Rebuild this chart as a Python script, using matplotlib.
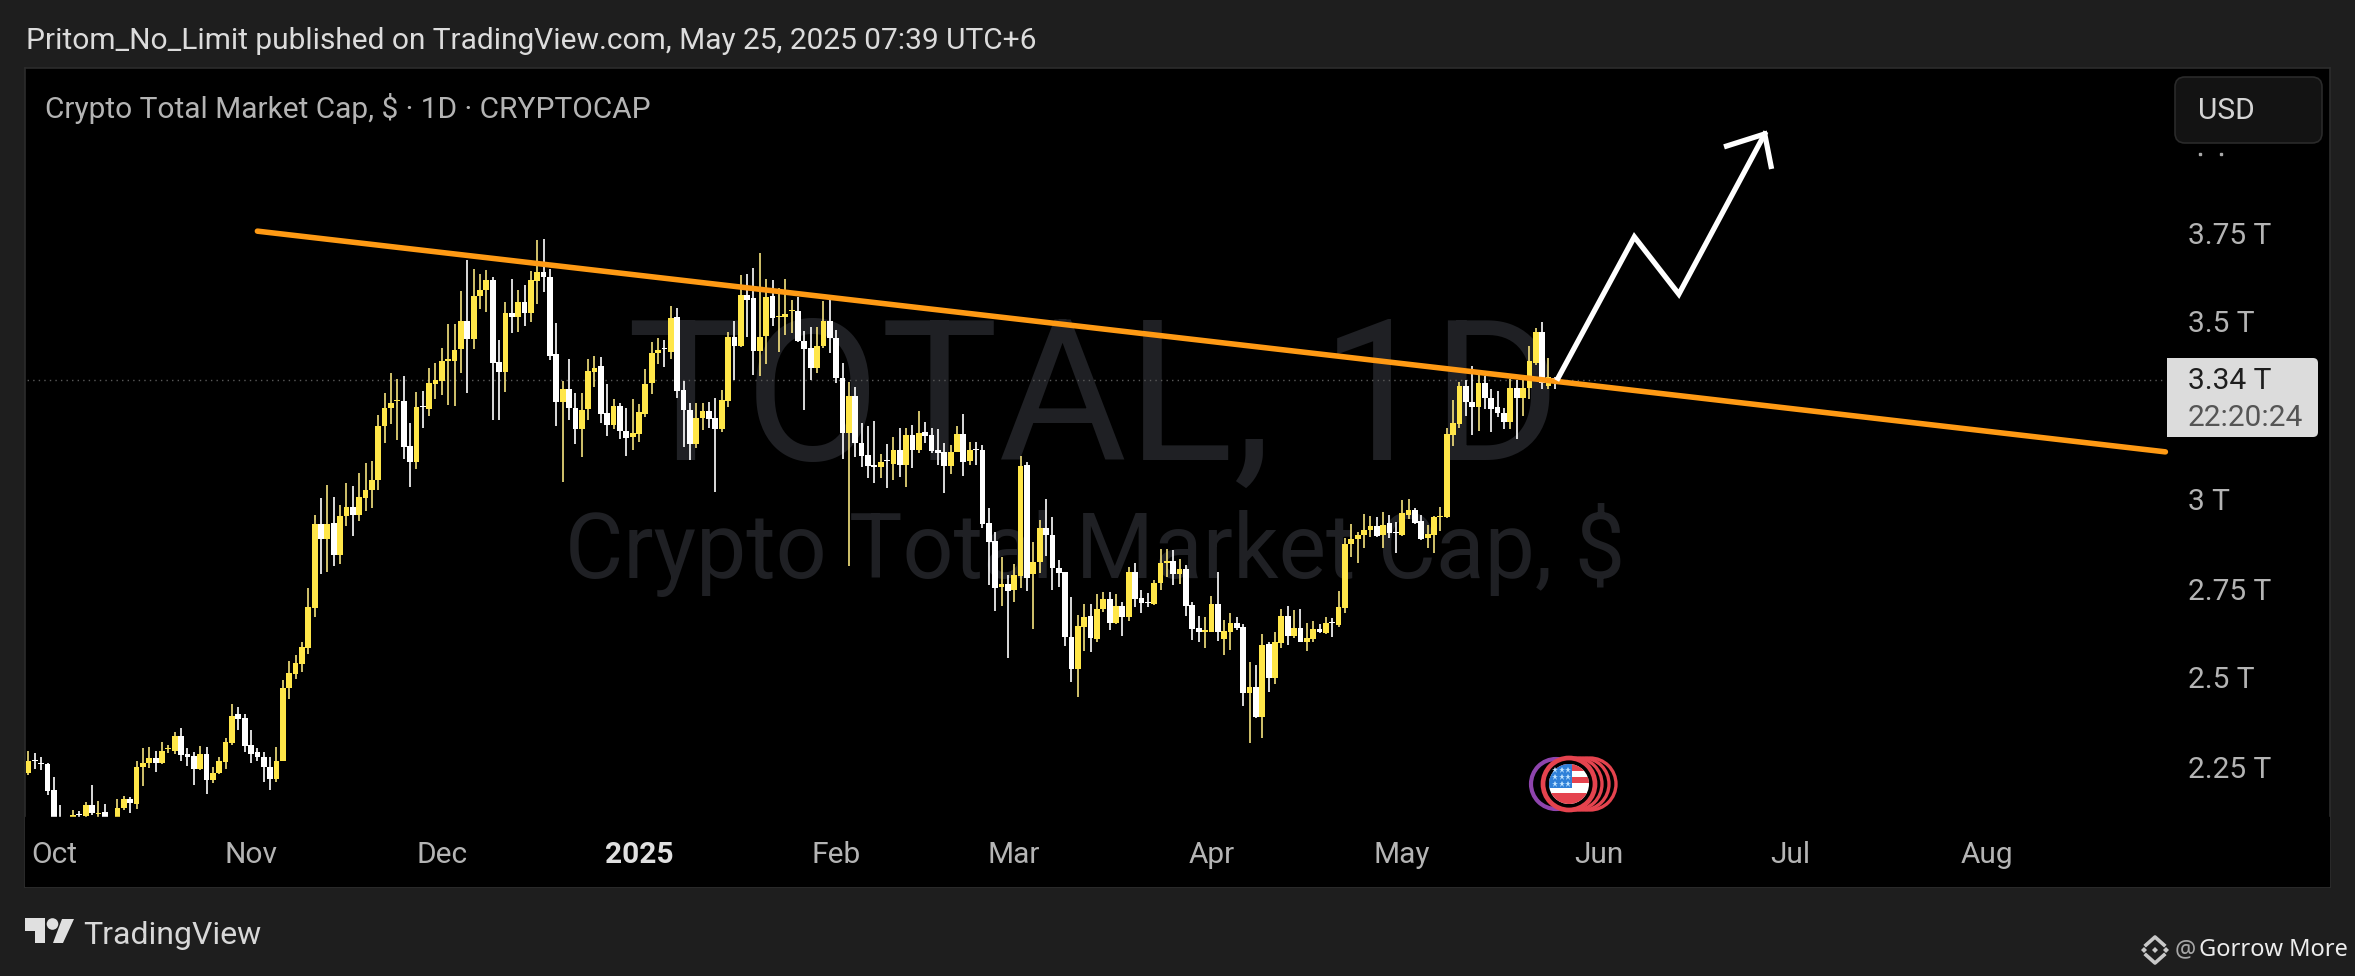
import matplotlib
matplotlib.use("Agg")
import matplotlib.pyplot as plt
import matplotlib.dates as mdates
from matplotlib.patches import Circle, FancyBboxPatch, Polygon, Rectangle
import numpy as np
import pandas as pd

plt.rcParams['font.family'] = ['Roboto', 'DejaVu Sans']

W, H = 2355, 976
BG = '#1e1e1e'
YELLOW = '#ffe648'
YELLOW_WICK = '#f5e27e'

start_date = '2024-09-27'

opens = [2.237, 2.273, 2.265, 2.262, 2.189, 2.100, 2.070, 2.105, 2.122, 2.116,
         2.145, 2.122, 2.126, 2.100, 2.108, 2.137, 2.164, 2.149, 2.254, 2.265,
         2.277, 2.263, 2.302, 2.299, 2.339, 2.288, 2.283, 2.246, 2.288, 2.217,
         2.237, 2.268, 2.320, 2.401, 2.390, 2.314, 2.294, 2.282, 2.254, 2.220,
         2.271, 2.474, 2.514, 2.542, 2.587, 2.700, 2.935, 2.894, 2.937, 2.849,
         2.959, 2.984, 2.962, 3.008, 3.031, 3.059, 3.211, 3.261, 3.280, 3.281,
         3.155, 3.110, 3.267, 3.259, 3.329, 3.338, 3.394, 3.394, 3.428, 3.505,
         3.456, 3.575, 3.594, 3.620, 3.391, 3.362, 3.529, 3.518, 3.559, 3.529,
         3.617, 3.642, 3.629, 3.413, 3.279, 3.315, 3.260, 3.202, 3.258, 3.363,
         3.379, 3.246, 3.213, 3.267, 3.198, 3.181, 3.188, 3.244, 3.331, 3.417,
         3.429, 3.419, 3.516, 3.312, 3.257, 3.160, 3.232, 3.253, 3.232, 3.201,
         3.281, 3.460, 3.435, 3.579, 3.570, 3.422, 3.463, 3.576, 3.516, 3.518,
         3.533, 3.533, 3.450, 3.429, 3.374, 3.435, 3.506, 3.457, 3.346, 3.190,
         3.295, 3.164, 3.129, 3.101, 3.095, 3.115, 3.104, 3.143, 3.101, 3.185,
         3.143, 3.194, 3.185, 3.143, 3.137, 3.099, 3.139, 3.188, 3.113, 3.147,
         3.143, 2.937, 2.888, 2.759, 2.766, 2.750, 2.790, 3.101, 2.795, 2.828,
         2.923, 2.904, 2.811, 2.800, 2.617, 2.527, 2.647, 2.678, 2.612, 2.696,
         2.725, 2.658, 2.706, 2.673, 2.801, 2.727, 2.717, 2.711, 2.771, 2.827,
         2.831, 2.795, 2.809, 2.708, 2.642, 2.633, 2.633, 2.711, 2.612, 2.633,
         2.656, 2.645, 2.462, 2.478, 2.394, 2.597, 2.504, 2.600, 2.677, 2.621,
         2.642, 2.605, 2.611, 2.640, 2.630, 2.660, 2.652, 2.699, 2.878, 2.893,
         2.904, 2.919, 2.930, 2.904, 2.937, 2.914, 2.904, 2.961, 2.975, 2.944,
         2.897, 2.904, 2.954, 2.954, 3.185, 3.216, 3.323, 3.279, 3.265, 3.331,
         3.290, 3.265, 3.248, 3.223, 3.317, 3.288, 3.317, 3.387, 3.474, 3.323, 3.345]

closes = [2.271, 2.270, 2.262, 2.186, 2.100, 2.060, 2.090, 2.119, 2.119, 2.145,
          2.124, 2.125, 2.105, 2.090, 2.138, 2.162, 2.152, 2.254, 2.265, 2.277,
          2.265, 2.299, 2.306, 2.339, 2.286, 2.282, 2.248, 2.288, 2.215, 2.237,
          2.269, 2.322, 2.397, 2.387, 2.313, 2.288, 2.282, 2.254, 2.220, 2.271,
          2.474, 2.516, 2.545, 2.589, 2.702, 2.935, 2.894, 2.935, 2.849, 2.959,
          2.984, 2.962, 3.010, 3.031, 3.059, 3.211, 3.261, 3.276, 3.283, 3.151,
          3.110, 3.264, 3.263, 3.332, 3.340, 3.392, 3.400, 3.424, 3.505, 3.456,
          3.575, 3.594, 3.622, 3.388, 3.362, 3.527, 3.516, 3.559, 3.529, 3.620,
          3.642, 3.629, 3.408, 3.279, 3.315, 3.260, 3.202, 3.256, 3.365, 3.375,
          3.244, 3.213, 3.267, 3.198, 3.178, 3.190, 3.249, 3.329, 3.415, 3.424,
          3.426, 3.513, 3.309, 3.256, 3.160, 3.232, 3.253, 3.230, 3.202, 3.284,
          3.462, 3.436, 3.579, 3.565, 3.422, 3.462, 3.574, 3.513, 3.520, 3.525,
          3.536, 3.450, 3.428, 3.374, 3.435, 3.506, 3.457, 3.345, 3.190, 3.295,
          3.164, 3.126, 3.098, 3.096, 3.109, 3.111, 3.143, 3.101, 3.185, 3.143,
          3.192, 3.183, 3.140, 3.134, 3.099, 3.137, 3.188, 3.110, 3.143, 3.143,
          2.935, 2.886, 2.757, 2.766, 2.748, 2.792, 3.098, 2.785, 2.828, 2.923,
          2.904, 2.811, 2.797, 2.617, 2.527, 2.649, 2.675, 2.614, 2.696, 2.725,
          2.658, 2.706, 2.675, 2.801, 2.725, 2.714, 2.714, 2.771, 2.825, 2.831,
          2.795, 2.808, 2.706, 2.640, 2.631, 2.638, 2.711, 2.631, 2.636, 2.656,
          2.644, 2.462, 2.477, 2.394, 2.596, 2.504, 2.605, 2.677, 2.621, 2.642,
          2.605, 2.615, 2.640, 2.631, 2.656, 2.657, 2.703, 2.879, 2.892, 2.904,
          2.919, 2.930, 2.902, 2.933, 2.911, 2.911, 2.965, 2.975, 2.939, 2.893,
          2.906, 2.954, 2.958, 3.187, 3.218, 3.324, 3.279, 3.265, 3.331, 3.288,
          3.258, 3.246, 3.223, 3.317, 3.288, 3.317, 3.393, 3.474, 3.332, 3.347, 3.340]

highs = [2.299, 2.291, 2.282, 2.265, 2.226, 2.147, 2.100, 2.133, 2.130, 2.155,
         2.201, 2.156, 2.149, 2.108, 2.162, 2.172, 2.169, 2.269, 2.305, 2.308,
         2.297, 2.322, 2.316, 2.350, 2.361, 2.305, 2.294, 2.313, 2.308, 2.252,
         2.280, 2.335, 2.429, 2.421, 2.401, 2.356, 2.305, 2.294, 2.280, 2.308,
         2.497, 2.551, 2.568, 2.604, 2.756, 2.960, 3.008, 3.044, 3.010, 2.990,
         3.050, 3.042, 3.078, 3.106, 3.112, 3.242, 3.304, 3.360, 3.343, 3.352,
         3.219, 3.306, 3.309, 3.374, 3.388, 3.431, 3.496, 3.498, 3.590, 3.676,
         3.651, 3.637, 3.648, 3.628, 3.453, 3.558, 3.623, 3.592, 3.606, 3.645,
         3.733, 3.736, 3.651, 3.499, 3.338, 3.398, 3.302, 3.302, 3.398, 3.407,
         3.405, 3.329, 3.286, 3.276, 3.260, 3.286, 3.272, 3.371, 3.446, 3.457,
         3.452, 3.548, 3.541, 3.337, 3.276, 3.274, 3.276, 3.279, 3.288, 3.312,
         3.476, 3.506, 3.635, 3.639, 3.655, 3.698, 3.625, 3.621, 3.597, 3.625,
         3.565, 3.572, 3.478, 3.488, 3.490, 3.562, 3.578, 3.480, 3.387, 3.333,
         3.321, 3.218, 3.211, 3.225, 3.131, 3.160, 3.179, 3.204, 3.204, 3.213,
         3.253, 3.223, 3.204, 3.202, 3.162, 3.157, 3.211, 3.243, 3.167, 3.167,
         3.157, 2.979, 2.912, 2.842, 2.792, 2.822, 3.127, 3.110, 2.884, 2.948,
         3.005, 2.956, 2.834, 2.801, 2.731, 2.680, 2.711, 2.711, 2.738, 2.745,
         2.743, 2.738, 2.717, 2.816, 2.825, 2.750, 2.741, 2.778, 2.865, 2.864,
         2.862, 2.836, 2.820, 2.717, 2.677, 2.675, 2.733, 2.800, 2.666, 2.684,
         2.675, 2.655, 2.547, 2.539, 2.626, 2.605, 2.631, 2.698, 2.705, 2.694,
         2.697, 2.658, 2.664, 2.654, 2.673, 2.670, 2.747, 2.895, 2.934, 2.914,
         2.963, 2.958, 2.956, 2.968, 2.961, 2.940, 3.003, 3.007, 2.979, 2.961,
         2.933, 2.959, 2.984, 3.206, 3.284, 3.335, 3.340, 3.380, 3.365, 3.351,
         3.316, 3.310, 3.260, 3.343, 3.340, 3.340, 3.435, 3.487, 3.502, 3.401, 3.349]

lows = [2.229, 2.248, 2.245, 2.173, 2.070, 2.050, 2.050, 2.080, 2.100, 2.108,
        2.119, 2.110, 2.090, 2.070, 2.090, 2.132, 2.124, 2.136, 2.200, 2.251,
        2.239, 2.260, 2.291, 2.288, 2.271, 2.256, 2.201, 2.243, 2.178, 2.207,
        2.232, 2.248, 2.316, 2.358, 2.296, 2.265, 2.271, 2.211, 2.189, 2.212,
        2.269, 2.444, 2.500, 2.519, 2.570, 2.675, 2.796, 2.801, 2.818, 2.824,
        2.929, 2.903, 2.943, 2.973, 2.980, 3.031, 3.163, 3.216, 3.172, 3.118,
        3.039, 3.089, 3.206, 3.238, 3.287, 3.298, 3.270, 3.267, 3.360, 3.304,
        3.428, 3.539, 3.532, 3.227, 3.227, 3.307, 3.473, 3.475, 3.491, 3.504,
        3.552, 3.586, 3.397, 3.212, 3.054, 3.228, 3.160, 3.124, 3.228, 3.321,
        3.220, 3.183, 3.202, 3.173, 3.126, 3.143, 3.167, 3.237, 3.301, 3.385,
        3.377, 3.398, 3.288, 3.153, 3.115, 3.150, 3.199, 3.204, 3.026, 3.195,
        3.265, 3.340, 3.432, 3.462, 3.354, 3.352, 3.385, 3.492, 3.419, 3.466,
        3.473, 3.448, 3.256, 3.340, 3.360, 3.429, 3.417, 3.332, 3.117, 2.818,
        3.124, 3.096, 3.066, 3.051, 3.066, 3.037, 3.059, 3.068, 3.040, 3.092,
        3.136, 3.164, 3.134, 3.101, 3.023, 3.075, 3.137, 3.071, 3.101, 3.101,
        2.923, 2.764, 2.692, 2.706, 2.560, 2.717, 2.755, 2.748, 2.640, 2.799,
        2.846, 2.750, 2.759, 2.594, 2.492, 2.450, 2.580, 2.577, 2.605, 2.687,
        2.638, 2.655, 2.622, 2.664, 2.703, 2.684, 2.703, 2.708, 2.750, 2.787,
        2.764, 2.767, 2.677, 2.610, 2.605, 2.588, 2.631, 2.608, 2.567, 2.581,
        2.638, 2.425, 2.319, 2.390, 2.335, 2.464, 2.485, 2.586, 2.596, 2.614,
        2.603, 2.580, 2.603, 2.628, 2.626, 2.619, 2.647, 2.684, 2.842, 2.827,
        2.869, 2.900, 2.898, 2.869, 2.895, 2.855, 2.903, 2.949, 2.935, 2.890,
        2.869, 2.855, 2.916, 2.951, 3.155, 3.204, 3.240, 3.184, 3.198, 3.258,
        3.195, 3.237, 3.201, 3.201, 3.173, 3.240, 3.286, 3.382, 3.315, 3.316, 3.316]

month_ticks = ['2024-10-01', '2024-11-01', '2024-12-01', '2025-01-01', '2025-02-01', '2025-03-01',
               '2025-04-01', '2025-05-01', '2025-06-01', '2025-07-01', '2025-08-01']
month_labels = ['Oct', 'Nov', 'Dec', '2025', 'Feb', 'Mar', 'Apr', 'May', 'Jun', 'Jul', 'Aug']
price_ticks = [3.75, 3.5, 3.0, 2.75, 2.5, 2.25]
price_labels = ['3.75 T', '3.5 T', '3 T', '2.75 T', '2.5 T', '2.25 T']
last_price = 3.34

trend_dates = ['2024-11-02', '2025-08-29']
trend_values = [3.758, 3.138]
arrow_dates = ['2025-05-25 12:00', '2025-06-06 12:00', '2025-06-13 12:00', '2025-06-27 00:00']
arrow_values = [3.345, 3.742, 3.581, 4.031]
head_dates = ['2025-06-21 00:00', '2025-06-27 00:00', '2025-06-28 00:00']
head_values = [3.997, 4.031, 3.940]


def num(dates):
    return mdates.date2num(pd.to_datetime(dates))


fig = plt.figure(figsize=(W / 100, H / 100), dpi=100, facecolor=BG)

# price pane, limits worked out from where the ticks sit in the picture
L, R, T, B = 25, 2330, 68, 887
ax = fig.add_axes([L / W, 1 - B / H, (R - L) / W, (B - T) / H], facecolor='black')
jan1 = mdates.date2num(pd.Timestamp('2025-01-01'))
px_day = 6.36
ax.set_xlim(jan1 + (L - 639) / px_day, jan1 + (R - 639) / px_day)
px_t = 356.0
ax.set_ylim(3.5 - (B - 323) / px_t, 3.5 + (323 - T) / px_t)
ax.set_xticks([])
ax.set_yticks([])
for s in ax.spines.values():
    s.set_color('#2c2c2c')
    s.set_linewidth(1.2)

x = num(pd.date_range(start_date, periods=len(opens), freq='D'))
o, c, h, l = map(np.array, (opens, closes, highs, lows))
up = c >= o

# watermark sits behind the candles
ax.text(jan1 + (1094 - 639) / px_day, 3.5 - (460 - 323) / px_t, 'TOTAL, 1D', color='#1f2024', fontsize=142,
        ha='center', va='baseline', zorder=1)
ax.text(jan1 + (1095 - 639) / px_day, 3.5 - (578 - 323) / px_t, 'Crypto Total Market Cap, $', color='#1f2024',
        fontsize=64.5, ha='center', va='baseline', zorder=1)

ax.hlines(last_price, x[0] - 2, jan1 + (2166 - 639) / px_day, color='#5a5a5a', lw=1.0, linestyles=(0, (1, 3)), zorder=2)

ax.vlines(x[up], l[up], h[up], color=YELLOW_WICK, lw=1.2, zorder=3)
ax.vlines(x[~up], l[~up], h[~up], color='white', lw=1.2, zorder=3)
ax.bar(x[up], (c - o)[up], bottom=o[up], width=0.9, color=YELLOW, linewidth=0, zorder=4)
ax.bar(x[~up], (o - c)[~up], bottom=c[~up], width=0.9, color='white', linewidth=0, zorder=4)

# the time scale strip hides the candles under 2.11 T
ax.add_patch(Rectangle((0, 0), 1, (B - 817) / (B - T), transform=ax.transAxes, color='black', zorder=5))

ax.plot(num(trend_dates), trend_values, color='#ff9a14', lw=4.0, solid_capstyle='round', zorder=6)
ax.plot(num(arrow_dates), arrow_values, color='white', lw=3.8, solid_joinstyle='miter', zorder=7)
ax.plot(num(head_dates), head_values, color='white', lw=3.8, solid_joinstyle='miter', zorder=7)

for d, lab in zip(num(month_ticks), month_labels):
    ax.text(d, 3.5 - (855 - 323) / px_t, lab, color='#e0e0e0' if lab == '2025' else '#b4b4b4', fontsize=21.5,
            fontweight='bold' if lab == '2025' else 'normal', ha='center', va='center', zorder=8)

# everything else is placed in picture pixels on a clear layer
ov = fig.add_axes([0, 0, 1, 1], facecolor='none')
ov.set_xlim(0, W)
ov.set_ylim(H, 0)
ov.axis('off')

for p, lab in zip(price_ticks, price_labels):
    ov.text(2188, 324.5 + (3.5 - p) * px_t, lab, color='#b4b4b4', fontsize=21.5, ha='left', va='center')

ov.text(26, 41, 'Pritom_No_Limit published on TradingView.com, May 25, 2025 07:39 UTC+6', color='#dcdcdc',
        fontsize=21.55, ha='left', va='center')
ov.text(45, 108, 'Crypto Total Market Cap, $ · 1D · CRYPTOCAP', color='#b4b4b4', fontsize=21.5, ha='left', va='center')

ov.add_patch(FancyBboxPatch((2181, 83), 135, 54, boxstyle='round,pad=6,rounding_size=10', fc='#131313', ec='#2a2a2a', lw=1.2))
ov.text(2198, 111, 'USD', color='#d4d4d4', fontsize=21.5, ha='left', va='center')
ov.plot([2200, 2221], [154, 154], ls='none', marker='s', ms=1.6, color='#aaaaaa')

# last price label
ov.add_patch(FancyBboxPatch((2171, 362), 143, 71, boxstyle='round,pad=4,rounding_size=5', fc='#dcdcdc', ec='none'))
ov.add_patch(Rectangle((2167, 358), 8, 79, fc='#dcdcdc', ec='none'))
ov.text(2188, 381, '3.34 T', color='#1e1e1e', fontsize=21.5, ha='left', va='center')
ov.text(2188, 418, '22:20:24', color='#555555', fontsize=21.5, ha='left', va='center')

# event badge with the flag
for cx in [1590, 1583, 1576]:
    ov.add_patch(Circle((cx, 784), 26, fc='black', ec='#e5434e', lw=2.4))
ov.add_patch(Circle((1556, 784), 25, fc='black', ec='#8e44ad', lw=3))
ov.add_patch(Circle((1569, 784), 26, fc='black', ec='#e5434e', lw=3.4))
flag = Circle((1569, 784), 20, fc='white', ec='none')
ov.add_patch(flag)
for y0, y1, col in [(764, 771, '#e5434e'), (777, 783, '#e5434e'), (793, 804, '#e5434e')]:
    r = Rectangle((1549, y0), 40, y1 - y0, fc=col, ec='none')
    ov.add_patch(r)
    r.set_clip_path(flag)
blue = Rectangle((1549, 764), 23, 24, fc='#2f80d8', ec='none')
ov.add_patch(blue)
blue.set_clip_path(flag)
for sy in [770, 777, 784]:
    ov.plot([1555, 1562, 1568], [sy] * 3, ls='none', marker='*', ms=4.5, color='#bfe3ff', mew=0)

# footer, logo is drawn by hand
ov.add_patch(Polygon([(25, 918), (45, 918), (45, 943), (35, 943), (35, 931), (25, 931)], fc='#e0e0e0', ec='none'))
ov.add_patch(Circle((52.5, 924), 5.8, fc='#e0e0e0', ec='none'))
ov.add_patch(Polygon([(62, 919), (74, 919), (63, 943), (53, 943)], fc='#e0e0e0', ec='none'))
ov.text(83, 935, 'TradingView', color='#d8d8d8', fontsize=23, ha='left', va='center')

for dx, dy, r in [(0, 0, 3), (-11, 0, 3), (11, 0, 3)]:
    ov.add_patch(Polygon([(2155 + dx - r, 950 + dy), (2155 + dx, 950 + dy - r), (2155 + dx + r, 950 + dy), (2155 + dx, 950 + dy + r)],
                         fc='#c8c8c8', ec='none'))
ov.plot([2146, 2155, 2164], [945, 937, 945], color='#c8c8c8', lw=2.6)
ov.plot([2146, 2155, 2164], [955, 963, 955], color='#c8c8c8', lw=2.6)
ov.text(2175, 950, '@', color='#a8a8a8', fontsize=17, family=['Noto Sans'], ha='left', va='center')
ov.text(2199, 950, 'Gorrow More', color='#ededed', fontsize=17, family=['Noto Sans'], ha='left', va='center')

fig.savefig('out.png', dpi=100, facecolor=BG)
